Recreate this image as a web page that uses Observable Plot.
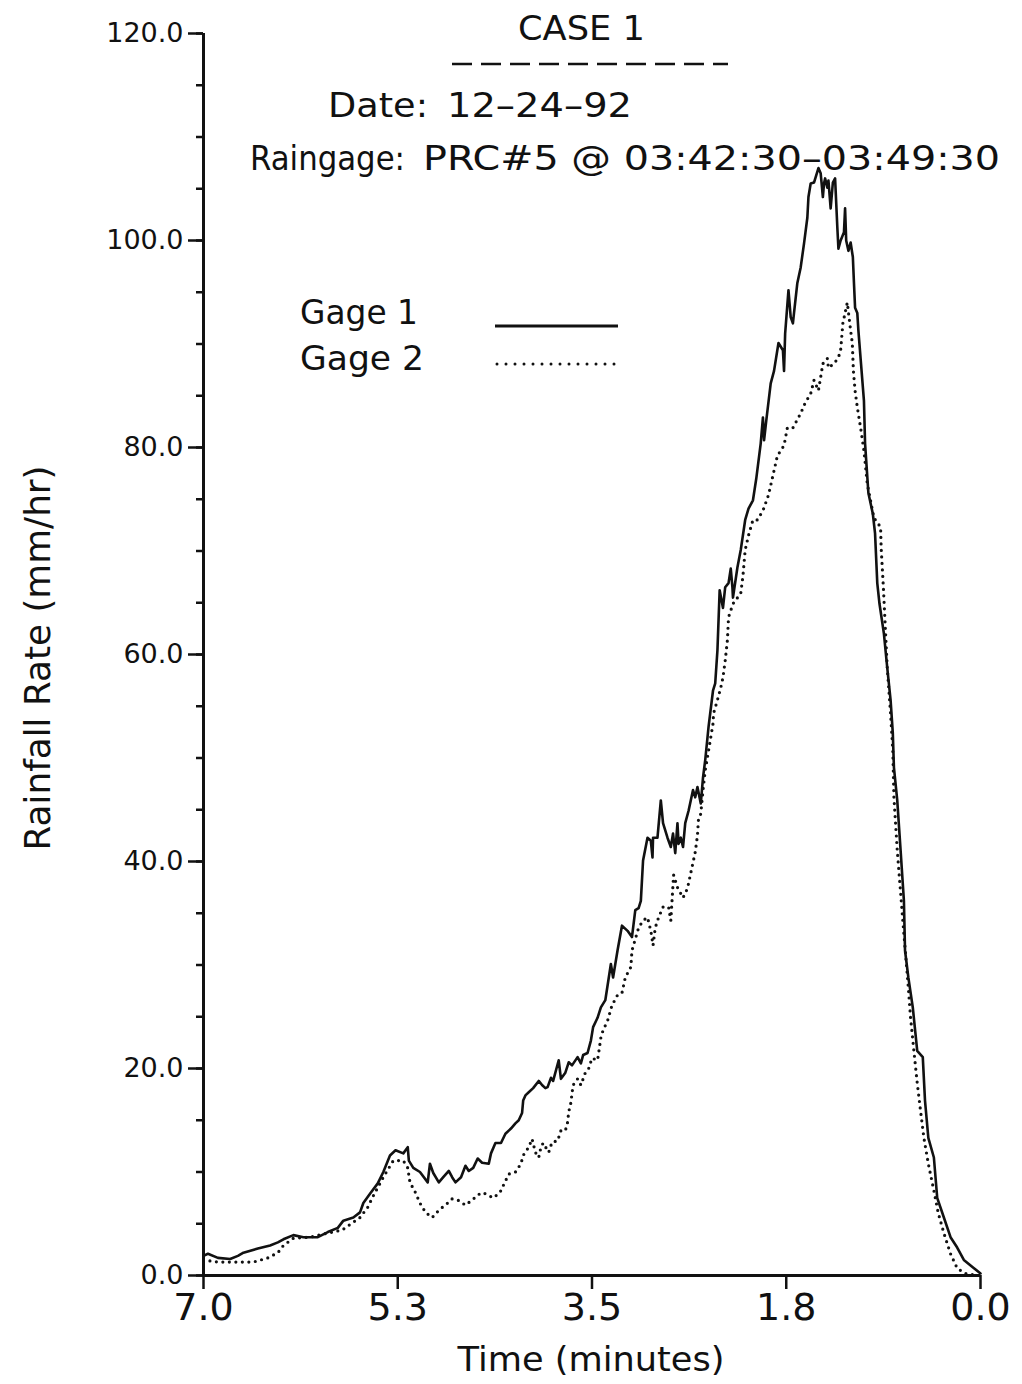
<!DOCTYPE html>
<html>
<head>
<meta charset="utf-8">
<script src="https://cdn.jsdelivr.net/npm/d3@7"></script>
<script src="https://cdn.jsdelivr.net/npm/@observablehq/plot@0.6"></script>
<style>
  html, body { margin: 0; padding: 0; background: #fff; }
  #chart { width: 1022px; height: 1384px; }
</style>
</head>
<body>
<div id="chart"></div>
<script>
// ---- Data ----
const xTicks = [7, 5.25, 3.5, 1.75, 0];
const yTicks = [0, 20, 40, 60, 80, 100, 120];
const yMinorTicks = d3.range(0, 121, 5);

// Gage 1 (solid): time before end (minutes) and rainfall rate (mm/hr)
const time1 = [7.00,6.96,6.87,6.76,6.69,6.64,6.51,6.40,6.33,6.28,6.19,6.10,5.97,5.88,5.79,5.74,5.65,5.59,5.56,5.50,
  5.43,5.38,5.32,5.27,5.20,5.16,5.15,5.11,5.05,4.98,4.96,4.93,4.88,4.84,4.79,4.76,4.73,4.68,4.64,4.61,
  4.57,4.53,4.49,4.43,4.41,4.37,4.32,4.28,4.23,4.19,4.16,4.13,4.12,4.10,4.07,4.03,3.98,3.95,3.92,3.90,
  3.87,3.85,3.80,3.78,3.74,3.71,3.68,3.63,3.60,3.58,3.54,3.51,3.49,3.45,3.42,3.38,3.33,3.31,3.27,3.23,
  3.18,3.14,3.11,3.08,3.06,3.04,3.00,2.97,2.955,2.95,2.91,2.88,2.86,2.82,2.79,2.77,2.75,2.73,2.72,2.70,
  2.68,2.66,2.63,2.59,2.57,2.55,2.52,2.50,2.48,2.45,2.41,2.39,2.37,2.35,2.32,2.30,2.27,2.25,2.235,2.23,
  2.19,2.16,2.12,2.09,2.05,2.02,1.98,1.96,1.95,1.93,1.89,1.86,1.82,1.78,1.77,1.76,1.73,1.71,1.69,1.68,
  1.65,1.62,1.59,1.56,1.55,1.53,1.50,1.46,1.44,1.42,1.41,1.40,1.38,1.37,1.35,1.33,1.31,1.29,1.28,1.26,
  1.23,1.22,1.21,1.19,1.17,1.15,1.14,1.13,1.11,1.10,1.05,1.04,1.01,0.97,0.95,0.93,0.91,0.87,0.84,0.81,
  0.79,0.78,0.75,0.72,0.69,0.68,0.65,0.61,0.57,0.52,0.50,0.47,0.42,0.39,0.33,0.27,0.21,0.15,0.07,0.00];
const rate1 = [1.9,2.1,1.7,1.6,1.9,2.2,2.6,2.9,3.2,3.5,3.9,3.7,3.7,4.2,4.6,5.3,5.6,6.1,7.0,7.9,
  8.9,10.0,11.6,12.1,11.8,12.4,11.1,10.4,10.0,9.0,10.8,9.9,9.0,9.5,10.1,9.5,9.0,9.5,10.6,10.1,
  10.4,11.3,10.9,10.8,11.8,12.8,12.8,13.7,14.2,14.7,15.0,15.7,16.9,17.4,17.7,18.1,18.8,18.4,18.1,18.2,
  19.1,18.8,20.8,19.0,19.6,20.6,20.3,21.1,20.5,21.3,21.5,22.7,24.0,24.9,25.9,26.6,30.1,28.8,31.4,33.8,
  33.3,32.7,35.3,35.5,36.2,40.1,42.3,42.0,40.4,42.3,42.3,45.9,43.7,42.3,41.4,42.7,40.8,43.7,41.7,42.3,
  41.4,43.7,44.9,46.9,46.2,47.2,45.6,48.1,49.8,53.0,56.5,57.2,60.4,66.2,64.5,66.5,66.9,68.3,66.5,65.5,
  68.4,70.1,73.0,74.1,74.9,77.0,80.4,82.9,80.7,82.6,86.2,87.4,90.1,89.4,87.4,91.0,95.2,92.6,92.0,93.0,
  95.9,97.4,99.7,102.2,104.2,105.5,105.6,107.0,106.5,104.2,105.5,106.0,105.1,105.8,103.1,105.6,106.0,101.3,99.2,100.0,
  100.8,103.1,100.0,99.0,99.8,98.4,95.9,93.5,93.0,91.3,84.5,80.4,75.6,73.6,71.7,66.9,64.9,62.0,58.7,55.6,
  52.4,49.1,45.9,41.1,36.2,31.4,28.8,25.9,21.7,21.1,16.9,13.3,11.4,7.5,5.6,3.7,2.7,1.5,0.8,0.2];

// Gage 2 (dotted)
const time2 = [7.00,6.87,6.64,6.55,6.42,6.33,6.28,6.19,6.04,5.88,5.75,5.59,5.52,5.47,5.38,5.29,5.20,5.16,5.14,5.09,
  5.05,5.00,4.94,4.88,4.80,4.76,4.71,4.64,4.58,4.50,4.46,4.39,4.33,4.29,4.25,4.19,4.14,4.12,4.07,4.04,
  4.01,3.98,3.96,3.94,3.89,3.86,3.81,3.78,3.74,3.72,3.71,3.69,3.68,3.67,3.63,3.60,3.58,3.56,3.53,3.50,
  3.45,3.44,3.42,3.40,3.36,3.32,3.27,3.23,3.20,3.15,3.14,3.08,3.04,3.00,2.97,2.95,2.93,2.90,2.86,2.81,
  2.79,2.775,2.765,2.73,2.70,2.68,2.64,2.61,2.59,2.57,2.55,2.54,2.52,2.50,2.48,2.45,2.43,2.41,2.405,2.37,
  2.34,2.32,2.30,2.28,2.27,2.23,2.21,2.16,2.14,2.12,2.09,2.05,2.01,1.96,1.91,1.87,1.83,1.77,1.74,1.69,
  1.64,1.62,1.58,1.53,1.50,1.46,1.42,1.38,1.37,1.32,1.28,1.26,1.24,1.22,1.20,1.17,1.155,1.145,1.13,1.11,
  1.08,1.05,1.02,0.96,0.90,0.895,0.885,0.875,0.84,0.81,0.79,0.78,0.75,0.70,0.65,0.63,0.60,0.57,0.54,0.51,
  0.47,0.42,0.38,0.33,0.27,0.21,0.14,0.03];
const rate2 = [1.5,1.3,1.3,1.3,1.7,2.2,2.9,3.6,3.7,4.1,4.4,5.6,6.6,7.7,9.5,11.1,11.1,10.4,9.0,8.0,
  7.0,6.1,5.6,6.3,7.0,7.4,7.3,6.8,7.3,8.0,7.9,7.5,8.0,8.9,9.8,10.0,10.8,11.6,12.4,13.2,
  11.9,11.4,12.4,12.8,11.9,12.9,13.0,14.0,14.0,14.8,15.8,16.7,17.6,18.4,19.0,18.4,19.0,19.6,20.0,21.0,
  20.8,21.5,23.0,23.7,24.6,26.1,27.1,27.3,28.8,29.8,31.4,33.6,34.3,34.6,33.3,31.9,33.6,34.6,35.6,35.6,
  34.3,36.9,38.7,37.5,36.9,36.5,37.4,38.9,39.9,40.9,42.5,44.2,44.6,46.9,48.8,50.7,52.0,53.3,54.3,55.6,
  56.8,57.8,59.4,61.4,63.6,64.9,65.2,65.9,67.6,70.1,71.5,73.0,73.0,73.9,75.4,77.3,79.2,80.2,81.9,81.9,
  82.9,83.3,84.3,85.2,86.5,85.5,88.1,88.6,87.7,88.1,88.7,89.4,92.0,93.0,94.0,91.3,90.1,87.4,85.5,83.9,
  81.9,79.7,76.5,73.2,72.3,70.3,68.4,66.5,58.7,54.3,50.7,46.2,41.1,34.3,27.8,24.9,21.7,18.6,15.9,13.3,
  10.8,8.2,6.0,4.1,2.1,0.7,0.2,0.0];

const gage1 = time1.map((t, i) => ({t, r: rate1[i]}));
const gage2 = time2.map((t, i) => ({t, r: rate2[i]}));

const FONT = "DejaVu Sans";

const chart = Plot.plot({
  width: 1022,
  height: 1384,
  marginLeft: 203,
  marginRight: 42,
  marginTop: 33,
  marginBottom: 109,
  style: {fontFamily: FONT, color: "#111", background: "#fff", overflow: "visible"},
  x: {domain: [0, 7], reverse: true},
  y: {domain: [0, 120]},
  marks: [
    Plot.axisY({ticks: yMinorTicks, tickSize: 7, tickFormat: null, text: null, strokeWidth: 2.5, label: null}),
    Plot.axisY({ticks: yTicks, tickSize: 15, tickPadding: 5, tickFormat: d => d.toFixed(1), strokeWidth: 2.5, fontSize: 27, label: null}),
    Plot.axisX({ticks: xTicks, tickSize: 14, tickPadding: 4, tickFormat: d => d.toFixed(1), strokeWidth: 2.5, fontSize: 38, label: null}),
    Plot.ruleX([7], {stroke: "#111", strokeWidth: 3}),
    Plot.ruleY([0], {stroke: "#111", strokeWidth: 3}),
    Plot.line(gage2, {x: "t", y: "r", stroke: "#111", strokeWidth: 3.2, strokeDasharray: "0 6.5", strokeLinecap: "round"}),
    Plot.line(gage1, {x: "t", y: "r", stroke: "#111", strokeWidth: 2.6, strokeLinejoin: "round"})
  ]
});

document.getElementById("chart").appendChild(chart);

// ---- Annotations: header, legend, axis titles ----
const svg = d3.select(chart);
const txt = (x, y, s, size, anchor = "start", extra = {}) => {
  const t = svg.append("text")
    .attr("x", x).attr("y", y)
    .attr("font-family", FONT)
    .attr("font-size", size)
    .attr("fill", "#111")
    .attr("text-anchor", anchor)
    .text(s);
  for (const k in extra) t.attr(k, extra[k]);
  return t;
};
const fit = {lengthAdjust: "spacingAndGlyphs"};

txt(518, 40, "CASE 1", 34, "start", {...fit, textLength: 127});
svg.append("line").attr("x1", 452).attr("x2", 728).attr("y1", 64).attr("y2", 64)
  .attr("stroke", "#111").attr("stroke-width", 2.5).attr("stroke-dasharray", "20 9");
txt(328, 117, "Date:", 34, "start", {...fit, textLength: 100});
txt(447, 117, "12–24–92", 34, "start", {...fit, textLength: 185});
txt(250, 170, "Raingage:", 34, "start", {...fit, textLength: 155});
txt(423, 170, "PRC#5 @ 03:42:30–03:49:30", 34, "start", {...fit, textLength: 577});

// legend
txt(300, 324, "Gage 1", 34, "start", {...fit, textLength: 118});
txt(300, 370, "Gage 2", 34, "start", {...fit, textLength: 124});
svg.append("line").attr("x1", 495).attr("x2", 618).attr("y1", 326).attr("y2", 326)
  .attr("stroke", "#111").attr("stroke-width", 3);
svg.append("line").attr("x1", 497).attr("x2", 616).attr("y1", 364).attr("y2", 364)
  .attr("stroke", "#111").attr("stroke-width", 3).attr("stroke-dasharray", "0 9").attr("stroke-linecap", "round");

// axis titles
txt(591, 1371, "Time (minutes)", 34, "middle", {...fit, textLength: 267});
txt(0, 0, "Rainfall Rate (mm/hr)", 35, "middle", {transform: "translate(50,658) rotate(-90)", ...fit, textLength: 385});
</script>
</body>
</html>
